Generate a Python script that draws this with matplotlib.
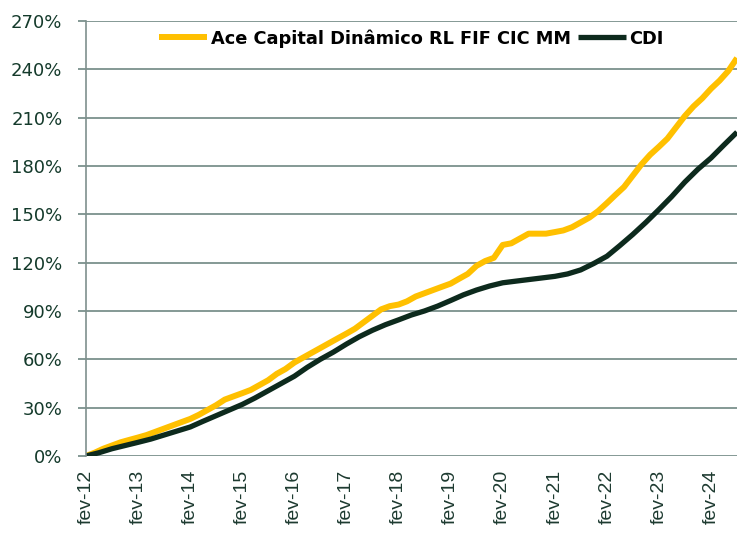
import pandas as pd
import matplotlib
matplotlib.use("Agg")
import matplotlib.pyplot as plt

# Ace Capital fund, every 2 months from fev-12 (accumulated return, %)
fund_dates = pd.date_range("2012-02-01", periods=76, freq="2MS")
fund = [0, 2, 4.5, 6.5, 8.5, 10, 11.5, 13, 15, 17, 19, 21, 23, 25.5, 28.5, 31.5,
        35, 37, 39, 41, 44, 47, 51, 54, 58, 61, 64, 67, 70, 73, 76, 79, 83, 87,
        91, 93, 94, 96, 99, 101, 103, 105, 107, 110, 113, 118, 121, 123, 131,
        132, 135, 138, 138, 138, 139, 140, 142, 145, 148, 152, 157, 162, 167,
        174, 181, 187, 192, 197, 204, 211, 217, 222, 228, 233, 239, 247]

# CDI, quarterly from fev-12
cdi_dates = pd.date_range("2012-02-01", periods=51, freq="3MS")
cdi = [0, 2, 4.5, 6.5, 8.5, 10.5, 13, 15.5, 18, 21.5, 25, 28.5, 32, 36, 40.5,
       45, 49.5, 55, 60, 64.5, 69.5, 74, 78, 81.5, 84.5, 87.5, 90, 93, 96.5,
       100, 103, 105.5, 107.5, 108.5, 109.5, 110.5, 111.5, 113, 115.5, 119.5,
       124, 130.5, 137.5, 145, 153, 161, 170, 178, 185, 193, 201]

tick_dates = pd.date_range("2012-02-01", "2024-02-01", freq="12MS")
tick_labels = ["fev-%02d" % (d.year % 100) for d in tick_dates]
y_ticks = list(range(0, 271, 30))

grid_color = "#6f8783"

fig = plt.figure(figsize=(7.37, 5.33), dpi=100)
ax = fig.add_axes([0.1167, 0.1445, 0.8833, 0.8161])

ax.plot(fund_dates, fund, color="#FFC000", lw=4.3, label="Ace Capital Dinâmico RL FIF CIC MM",
        solid_capstyle="butt")
ax.plot(cdi_dates, cdi, color="#0d2a1d", lw=3.8, label="CDI", solid_capstyle="butt")

ax.set_xlim(fund_dates[0], fund_dates[-1])
ax.set_ylim(0, 270)
ax.set_yticks(y_ticks)
ax.set_yticklabels(["%d%%" % v for v in y_ticks])
ax.set_xticks(tick_dates)
ax.set_xticklabels(tick_labels, rotation=90, fontsize=14, family="Liberation Sans",
                   color="#1d3a30")

ax.yaxis.grid(True, color=grid_color, lw=1.2)
ax.set_axisbelow(True)
ax.tick_params(axis="y", length=6, color=grid_color, width=1.2, pad=11,
               labelsize=13, labelcolor="#143a2b")
ax.tick_params(axis="x", length=0, pad=10)

for s in ["top", "right", "bottom"]:
    ax.spines[s].set_visible(False)
ax.spines["left"].set_color("#7f908d")
ax.spines["left"].set_linewidth(1.2)

leg = ax.legend(loc="upper center", bbox_to_anchor=(0.5, 1.018), ncol=2, frameon=False,
                prop={"weight": "bold", "size": 12.8}, handlelength=2.7,
                handletextpad=0.2, columnspacing=0.4)

fig.savefig("out.png", dpi=100)
